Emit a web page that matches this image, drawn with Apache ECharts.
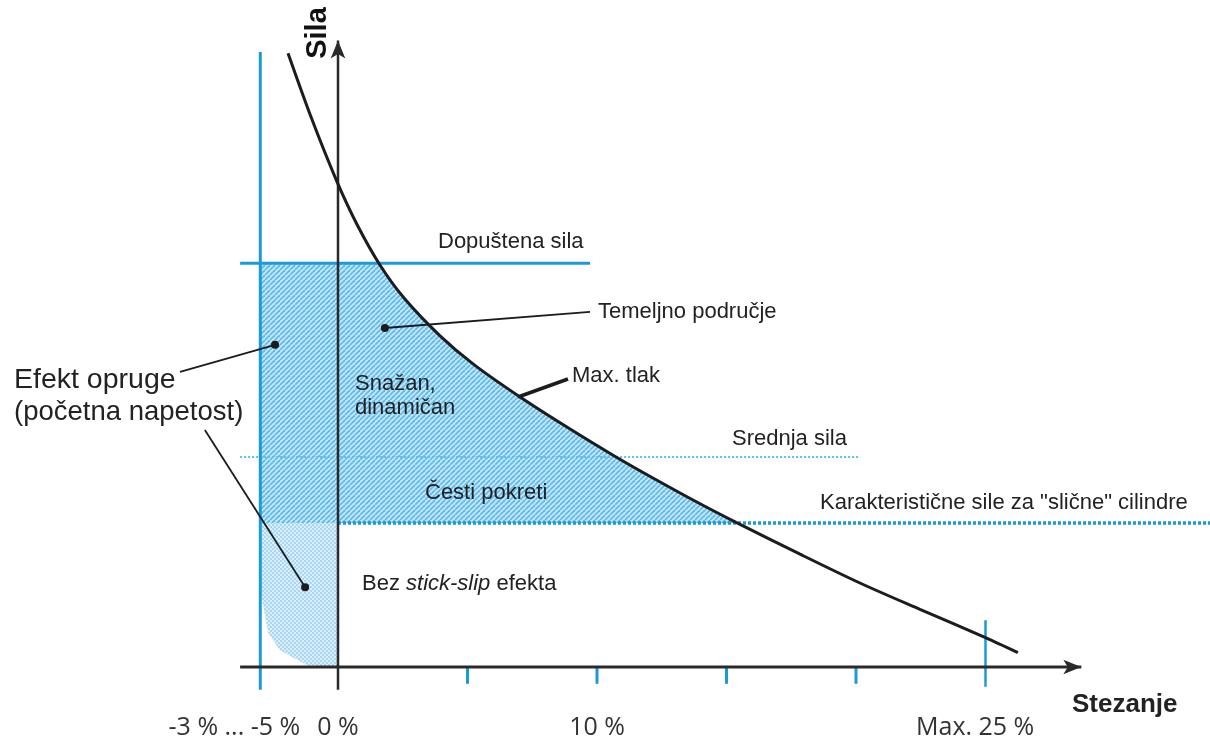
<!DOCTYPE html>
<html>
<head>
<meta charset="utf-8">
<script src="https://cdn.jsdelivr.net/npm/echarts@6/dist/echarts.min.js"></script>
<style>html,body{margin:0;padding:0;background:#fff}#c{width:1210px;height:740px}</style>
</head>
<body>
<div id="c"></div>
<script>
// ---- data (x = Stezanje in %, y = Sila in relative units) ----
const curveX = [-1.93, -1.00, -0.04, 0.73, 1.62, 2.55, 3.94, 5.25, 7.03, 8.76, 10.62, 12.16, 13.98, 15.37, 17.84, 20.15, 22.47, 25.0, 26.25];
const curveY = [102.3, 91.2, 80.9, 73.8, 67.0, 61.5, 55.2, 50.4, 45.0, 40.2, 35.3, 31.5, 27.2, 24.1, 18.8, 14.0, 9.6, 4.9, 2.4];
const levelNames = ['Dopuštena sila', 'Srednja sila', 'Karakteristične sile za "slične" cilindre'];
const levelValues = [67.3, 35, 24];
const preloadX = -3;          // -3 % ... -5 %
const maxX = 25;              // Max. 25 %
const tickValues = [5, 10, 15, 20];
const tickLabels = ['-3 % ... -5 %', '0 %', '10 %', 'Max. 25 %'];
const tickLabelX = [-4.0, 0, 10, 24.6];
// stick-slip-free zone outline
const softX = [-3, -3, -2.93, -2.7, -2.24, -1.2, 0, 0];
const softY = [24, 14, 11.2, 5.7, 2.8, 0.3, 0, 24];

const BLUE = '#1a9bd7';
const INK = '#1c1c1c';
const FONT = "'Liberation Sans', Arial, sans-serif";

function makePattern(kind) {
  const c = document.createElement('canvas');
  if (kind === 'hatch') {
    const n = 5; c.width = n; c.height = n;
    const g = c.getContext('2d');
    g.fillStyle = '#c6e7f9'; g.fillRect(0, 0, n, n);
    g.strokeStyle = '#5fbbea'; g.lineWidth = 1.8;
    for (let k = -n; k <= n; k += n) { g.beginPath(); g.moveTo(k, n); g.lineTo(k + n, 0); g.stroke(); }
  } else {
    c.width = 4; c.height = 4;
    const g = c.getContext('2d');
    g.fillStyle = '#dceefa'; g.fillRect(0, 0, 4, 4);
    g.fillStyle = '#a8d7f2'; g.fillRect(0, 0, 2, 2); g.fillRect(2, 2, 2, 2);
  }
  return { image: c, repeat: 'repeat' };
}

function crossX(y0) {
  for (let i = 0; i < curveY.length - 1; i++) {
    if (curveY[i] >= y0 && curveY[i + 1] <= y0) {
      const t = (curveY[i] - y0) / (curveY[i] - curveY[i + 1]);
      return curveX[i] + t * (curveX[i + 1] - curveX[i]);
    }
  }
  return null;
}

const topY = levelValues[0], botY = levelValues[2];
const hatchPts = [[preloadX, botY], [preloadX, topY], [crossX(topY), topY]];
curveX.forEach((x, i) => { if (curveY[i] < topY && curveY[i] > botY) hatchPts.push([x, curveY[i]]); });
hatchPts.push([crossX(botY), botY]);
const softPts = softX.map((x, i) => [x, softY[i]]);

function polySeries(pts, fill, z) {
  return {
    type: 'custom', coordinateSystem: 'cartesian2d', data: [[0, 0]], z, silent: true, animation: false,
    renderItem: (params, api) => ({
      type: 'polygon', shape: { points: pts.map(p => api.coord(p)) },
      style: { fill: fill, stroke: null }
    })
  };
}

function seg(pts, color, width, type, z, extra) {
  return Object.assign({
    type: 'line', data: pts, symbol: 'none', silent: true, animation: false, z,
    itemStyle: { color },
    lineStyle: { color, width, type: type || 'solid', cap: 'butt' }
  }, extra || {});
}

const series = [
  polySeries(hatchPts, makePattern('hatch'), 1),
  polySeries(softPts, makePattern('dots'), 1),
  // level lines
  seg([[-3.78, levelValues[0]], [9.73, levelValues[0]]], BLUE, 3, 'solid', 3),
  seg([[-3.78, levelValues[1]], [20.1, levelValues[1]]], '#5fc0ee', 2, [2, 2], 3),
  seg([[0, levelValues[2]], [34, levelValues[2]]], BLUE, 3.5, [3, 2], 3),
  // blue verticals
  seg([[preloadX, -3.8], [preloadX, 102.5]], BLUE, 3, 'solid', 3),
  seg([[maxX, -3.3], [maxX, 7.8]], BLUE, 2.5, 'solid', 3)
];
tickValues.forEach(t => series.push(seg([[t, 0], [t, -2.8]], BLUE, 3, 'solid', 3)));
// axes with arrows
series.push(seg([[-3.78, 0], { value: [28.7, 0], symbol: 'arrow', symbolSize: [11, 18], symbolRotate: -90 }], '#2a2a2a', 3, 'solid', 5));
series.push(seg([[0, -3.8], { value: [0, 104.4], symbol: 'arrow', symbolSize: [11, 18] }], '#2a2a2a', 2.5, 'solid', 5));
// main curve
series.push({
  type: 'line', name: 'Max. tlak', data: curveX.map((x, i) => [x, curveY[i]]), smooth: 0.3, symbol: 'none',
  silent: true, animation: false, z: 6, lineStyle: { color: INK, width: 3 }
});
// leader lines
const dot = (p) => ({ value: p, symbol: 'circle', symbolSize: 8 });
series.push(seg([dot([1.81, 56.5]), [9.73, 59.2]], INK, 1.8, 'solid', 7));
series.push(seg([dot([-2.43, 53.7]), [-6.1, 49.2]], INK, 1.8, 'solid', 7));
series.push(seg([[-5.14, 39.5], dot([-1.27, 13.3])], INK, 1.8, 'solid', 7));
series.push(seg([[6.95, 45.0], [8.88, 48.0]], INK, 3.5, 'solid', 7));

const chart = echarts.init(document.getElementById('c'), null, { renderer: 'canvas' });

function txt(x, y, text, font, extra) {
  return Object.assign({
    type: 'text', x, y, silent: true, z: 100,
    style: { text, font: font || ('22px ' + FONT), fill: '#222', align: 'left', verticalAlign: 'middle' }
  }, extra || {});
}

chart.setOption({
  backgroundColor: '#ffffff',
  animation: false,
  grid: { left: 0, right: 0, top: 0, bottom: 0 },
  xAxis: { type: 'value', min: -338 / 25.9, max: 872 / 25.9, show: false },
  yAxis: { type: 'value', min: -73 / 6, max: 667 / 6, show: false },
  series
});

// text annotations, positioned through the axes
function px(p) { return chart.convertToPixel({ gridIndex: 0 }, p); }
const T = [];
const lblF = '22px ' + FONT;
T.push(txt(438, 242, levelNames[0], lblF));
T.push(txt(598, 312, 'Temeljno područje', lblF));
T.push(txt(572, 376, 'Max. tlak', lblF));
T.push(txt(355, 384, 'Snažan,', lblF));
T.push(txt(355, 408, 'dinamičan', lblF));
T.push(txt(732, 439, levelNames[1], lblF));
T.push(txt(425, 493, 'Česti pokreti', lblF));
T.push(txt(820, 503, levelNames[2], lblF));
T.push({
  type: 'text', x: 362, y: 584, silent: true, z: 100,
  style: {
    text: '{a|Bez }{b|stick-slip}{a| efekta}', verticalAlign: 'middle', align: 'left',
    rich: { a: { font: lblF, fill: '#222' }, b: { font: 'italic ' + lblF, fill: '#222' } }
  }
});
T.push(txt(14, 380, 'Efekt opruge', '28.5px ' + FONT));
T.push(txt(14, 412, '(početna napetost)', '27.5px ' + FONT));
T.push(txt(1072, 705, 'Stezanje', 'bold 26px ' + FONT));
T.push(txt(318, 33, 'Sila', 'bold 29px ' + FONT, { rotation: Math.PI / 2, style: { text: 'Sila', font: 'bold 29px ' + FONT, fill: '#111', align: 'center', verticalAlign: 'middle' } }));
const tickF = "25px 'Open Sans', sans-serif";
tickLabels.forEach((s, i) => {
  const q = px([tickLabelX[i], 0]);
  T.push(txt(q[0], 728, s, tickF, { style: { text: s, font: tickF, fill: '#333', align: 'center', verticalAlign: 'middle' } }));
});
chart.setOption({ graphic: { elements: T } });
</script>
</body>
</html>
